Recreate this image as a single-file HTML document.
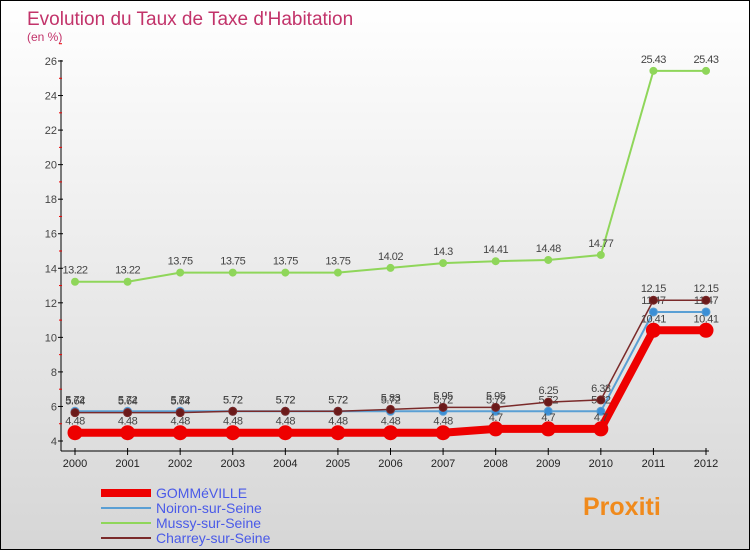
<!DOCTYPE html>
<html><head><meta charset="utf-8"><style>
body{margin:0}
#c{width:748px;height:548px;border:1px solid #000;background:linear-gradient(#fff,#d6d6d6);position:relative;font-family:"Liberation Sans",sans-serif;overflow:hidden}
</style></head><body>
<div id="c">
<svg id="s" width="748" height="548"></svg>
</div>
<script>
const years=["2000","2001","2002","2003","2004","2005","2006","2007","2008","2009","2010","2011","2012"];
const gomme=[4.48,4.48,4.48,4.48,4.48,4.48,4.48,4.48,4.7,4.7,4.7,10.41,10.41];
const noiron=[5.72,5.72,5.72,5.72,5.72,5.72,5.72,5.72,5.72,5.72,5.72,11.47,11.47];
const mussy=[13.22,13.22,13.75,13.75,13.75,13.75,14.02,14.3,14.41,14.48,14.77,25.43,25.43];
const charrey=[5.64,5.64,5.64,5.72,5.72,5.72,5.83,5.95,5.95,6.25,6.38,12.15,12.15];
const yTicks=[4,6,8,10,12,14,16,18,20,22,24,26];
const seriesNames=["GOMMéVILLE","Noiron-sur-Seine","Mussy-sur-Seine","Charrey-sur-Seine"];
const NS="http://www.w3.org/2000/svg";
const s=document.getElementById('s');
function X(i){return 74+i*(705-74)/(years.length-1);}
function Y(v){return 440-(v-4)*(380/22);}
function el(t,a,p){const e=document.createElementNS(NS,t);for(const k in a)e.setAttribute(k,a[k]);(p||s).appendChild(e);return e;}
let t=el('text',{x:26,y:24,'font-size':19,fill:'#c2336a'});t.textContent="Evolution du Taux de Taxe d'Habitation";

t=el('text',{x:26,y:40,'font-size':12,fill:'#c2336a'});t.textContent="(en %)";

let a=el('line',{x1:60,y1:59,x2:60,y2:450,stroke:'#000'});
a=el('line',{x1:60,y1:450,x2:708,y2:450,stroke:'#000'});
yTicks.forEach(v=>{el('line',{x1:57,x2:62,y1:Y(v),y2:Y(v),stroke:'#000'});
 el('line',{x1:58,x2:61,y1:Y(v+1),y2:Y(v+1),stroke:'#e00'});
 const tt=el('text',{x:56,y:Y(v)+4,'font-size':11,fill:'#444','text-anchor':'end'});tt.textContent=v;
 });
years.forEach((y,i)=>{el('line',{x1:X(i),x2:X(i),y1:447,y2:454,stroke:'#000'});
 const tt=el('text',{x:X(i),y:466,'font-size':11,fill:'#222','text-anchor':'middle'});tt.textContent=y;
 });
function series(data,color,w,r,name,fillc){
 const pts=data.map((v,i)=>X(i)+','+Y(v)).join(' ');
 const p=el('polyline',{points:pts,fill:'none',stroke:color,'stroke-width':w,'stroke-linejoin':'round'});
 
 data.forEach((v,i)=>{const c=el('circle',{cx:X(i),cy:Y(v),r:r,fill:fillc,stroke:color,'stroke-width':1});
  
  const tt=el('text',{x:X(i),y:Y(v)-8,'font-size':11,fill:'#444','text-anchor':'middle','letter-spacing':'-0.5'});tt.textContent=String(v);
  });
}
series(mussy,'#8fd65a',2,3.5,'mussy','#8fd65a');
series(noiron,'#5a9fd4',2,4,'noiron','#3b8fd6');
series(charrey,'#7a2a2a',1.5,4,'charrey','#6b1a1a');
series(gomme,'#ee0000',8,7,'gommeville','#ee0000');
const lc=['#ee0000','#5a9fd4','#8fd65a','#7a2a2a'],lw=[8,2,2,2];
seriesNames.forEach((n,i)=>{const yy=492+i*15;
 const g=el('g',{});
 el('line',{x1:100,x2:150,y1:yy,y2:yy,stroke:lc[i],'stroke-width':lw[i]},g);
 const tt=el('text',{x:155,y:yy+5,'font-size':14,fill:'#4a5ae8'},g);tt.textContent=n;});
const lg=el('text',{x:582,y:514,'font-size':25,'font-weight':'bold',fill:'#f08a1c'});lg.textContent="Proxiti";

</script>
</body></html>
